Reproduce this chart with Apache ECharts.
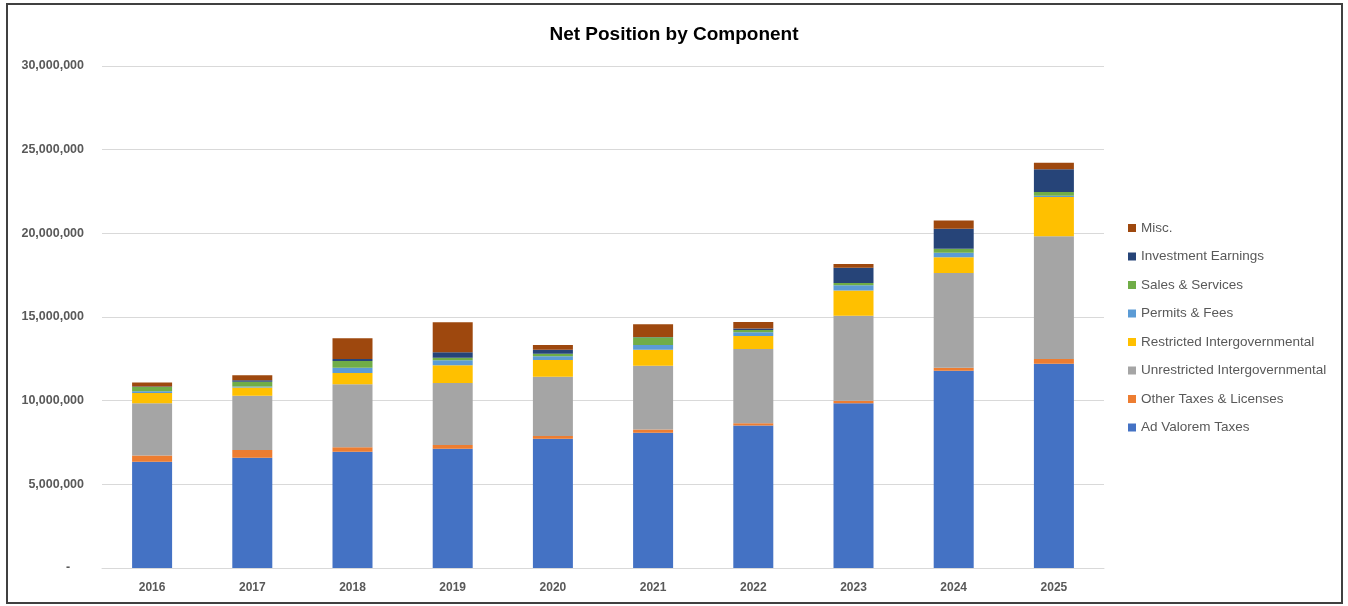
<!DOCTYPE html>
<html>
<head>
<meta charset="utf-8">
<script src="https://cdn.jsdelivr.net/npm/echarts@6/dist/echarts.min.js"></script>
<style>
html,body{margin:0;padding:0;background:#fff;}
#chart{width:1348px;height:606px;}
</style>
</head>
<body>
<div id="chart"></div>
<script>
const years = ['2016','2017','2018','2019','2020','2021','2022','2023','2024','2025'];
const adValorem    = [6350000, 6590000, 6950000, 7130000, 7730000, 8090000, 8510000, 9840000, 11790000, 12210000];
const otherTaxes   = [380000, 460000, 260000, 220000, 160000, 180000, 140000, 160000, 180000, 280000];
const unrestricted = [3110000, 3250000, 3770000, 3710000, 3540000, 3820000, 4440000, 5080000, 5660000, 7330000];
const restricted   = [620000, 480000, 670000, 1050000, 1000000, 960000, 770000, 1510000, 940000, 2350000];
const permits      = [100000, 60000, 320000, 300000, 220000, 280000, 230000, 300000, 270000, 80000];
const sales        = [260000, 290000, 400000, 160000, 160000, 460000, 130000, 140000, 240000, 220000];
const investment   = [20000, 90000, 120000, 320000, 240000, 20000, 100000, 920000, 1200000, 1360000];
const misc         = [240000, 300000, 1240000, 1790000, 280000, 750000, 380000, 220000, 480000, 390000];
const yTicks = [0, 5000000, 10000000, 15000000, 20000000, 25000000, 30000000];

const seriesDefs = [
  ['Ad Valorem Taxes', adValorem, '#4472C4'],
  ['Other Taxes & Licenses', otherTaxes, '#ED7D31'],
  ['Unrestricted Intergovernmental', unrestricted, '#A5A5A5'],
  ['Restricted Intergovernmental', restricted, '#FFC000'],
  ['Permits & Fees', permits, '#5B9BD5'],
  ['Sales & Services', sales, '#70AD47'],
  ['Investment Earnings', investment, '#264478'],
  ['Misc.', misc, '#9E480E']
];

const font = '"Liberation Sans", Arial, sans-serif';
const chart = echarts.init(document.getElementById('chart'));
chart.setOption({
  animation: false,
  backgroundColor: '#ffffff',
  title: {
    text: 'Net Position by Component',
    left: 'center',
    top: 20,
    textStyle: {fontFamily: font, fontSize: 19, fontWeight: 'bold', color: '#000000'}
  },
  graphic: [{
    type: 'rect',
    shape: {x: 7, y: 4, width: 1335, height: 599},
    style: {fill: 'none', stroke: '#404040', lineWidth: 2},
    silent: true, z: 100
  }],
  legend: {
    orient: 'vertical',
    left: 1123,
    top: 216,
    itemWidth: 8,
    itemHeight: 8,
    itemGap: 14.5,
    icon: 'rect',
    data: seriesDefs.map(d => d[0]).reverse(),
    textStyle: {fontFamily: font, fontSize: 13.5, color: '#595959', lineHeight: 14}
  },
  grid: {left: 102, right: 244, top: 66, bottom: 38, containLabel: false},
  xAxis: {
    type: 'category',
    data: years,
    axisLine: {lineStyle: {color: '#d9d9d9', width: 1}},
    axisTick: {show: false},
    axisLabel: {fontFamily: font, fontSize: 12, fontWeight: 'bold', color: '#595959', margin: 14}
  },
  yAxis: {
    type: 'value',
    min: yTicks[0],
    max: yTicks[yTicks.length - 1],
    interval: 5000000,
    axisLine: {show: false},
    axisTick: {show: false},
    splitLine: {lineStyle: {color: '#d9d9d9', width: 1}},
    axisLabel: {
      fontFamily: font, fontSize: 12.5, fontWeight: 'bold', color: '#595959', margin: 18,
      formatter: v => v === 0 ? '-    ' : v.toLocaleString('en-US')
    }
  },
  series: seriesDefs.map(d => ({
    name: d[0],
    type: 'bar',
    stack: 'total',
    barWidth: 40,
    data: d[1],
    itemStyle: {color: d[2]}
  }))
});
</script>
</body>
</html>
